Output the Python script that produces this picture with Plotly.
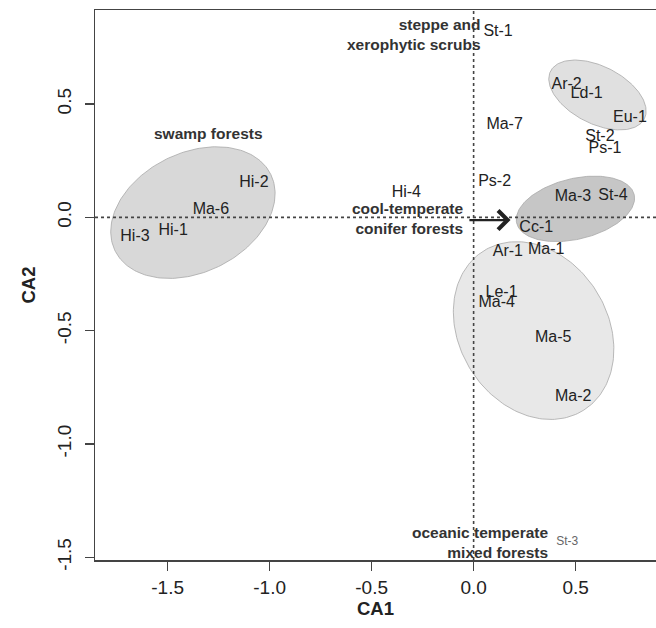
import numpy as np
import plotly.graph_objects as go

# ---- data: site labels (CA1, CA2) ----
site_names = ["St-1", "Ar-2", "Ld-1", "Eu-1", "St-2", "Ps-1", "Ma-7", "Ps-2",
              "Ma-3", "St-4", "Cc-1", "Ar-1", "Ma-1", "Le-1", "Ma-4", "Ma-5",
              "Ma-2", "Hi-4", "Hi-2", "Ma-6", "Hi-1", "Hi-3"]
site_ca1 = [0.120, 0.456, 0.554, 0.766, 0.619, 0.644, 0.152, 0.103,
            0.487, 0.683, 0.307, 0.168, 0.356, 0.137, 0.113, 0.390,
            0.488, -0.330, -1.077, -1.288, -1.473, -1.660]
site_ca2 = [0.816, 0.583, 0.543, 0.437, 0.356, 0.300, 0.407, 0.157,
            0.091, 0.094, -0.049, -0.154, -0.144, -0.335, -0.380, -0.534,
            -0.792, 0.109, 0.153, 0.032, -0.060, -0.088]

minor_names = ["St-3"]
minor_ca1 = [0.459]
minor_ca2 = [-1.432]

# ---- group ellipses: centre and two semi-axis vectors (data units) ----
ell_cx = [-1.376, 0.607, 0.499, 0.294]
ell_cy = [0.021, 0.540, 0.0375, -0.4996]
ell_ax = [0.382, 0.230, 0.288, 0.246]
ell_ay = [0.168, -0.105, 0.063, -0.351]
ell_bx = [-0.128, 0.0637, -0.0353, 0.307]
ell_by = [0.237, 0.113, 0.130, 0.175]
ell_fill = ["#d8d8d8", "#e0e0e0", "#c6c6c6", "#e8e8e8"]

# ---- group (vegetation type) labels ----
group_text = ["swamp forests", "steppe and<br>xerophytic scrubs",
              "cool-temperate<br>conifer forests",
              "oceanic temperate<br>mixed forests"]
group_x = [-1.301, 0.046, -0.041, 0.372]
group_y = [0.371, 0.809, -0.004, -1.434]
group_anchor = ["center", "right", "right", "right"]

# arrow (tail -> head)
arrow_tail = (-0.028, -0.012)
arrow_head = (0.181, -0.012)

# axes
x_range = [-1.856, 0.894]
y_range = [-1.512, 0.915]
x_ticks = [-1.5, -1.0, -0.5, 0.0, 0.5]
x_ticklabels = ["-1.5", "-1.0", "-0.5", "0.0", "0.5"]
y_ticks = [-1.5, -1.0, -0.5, 0.0, 0.5]
y_ticklabels = ["-1.5", "-1.0", "-0.5", "0.0", "0.5"]

FONT = "Liberation Sans, Arial, Helvetica, sans-serif"

fig = go.Figure()

t = np.linspace(0, 2 * np.pi, 200)
for cx, cy, ax_, ay_, bx, by, col in zip(ell_cx, ell_cy, ell_ax, ell_ay,
                                          ell_bx, ell_by, ell_fill):
    ex = cx + ax_ * np.cos(t) + bx * np.sin(t)
    ey = cy + ay_ * np.cos(t) + by * np.sin(t)
    fig.add_trace(go.Scatter(x=ex, y=ey, mode="lines", fill="toself",
                             fillcolor=col,
                             line=dict(color="#a8a8a8", width=0.8),
                             hoverinfo="skip", showlegend=False))

# dotted reference lines
fig.add_trace(go.Scatter(x=[0, 0], y=y_range, mode="lines",
                         line=dict(color="#444444", width=1.6, dash="dot"),
                         hoverinfo="skip", showlegend=False))
fig.add_trace(go.Scatter(x=x_range, y=[0, 0], mode="lines",
                         line=dict(color="#444444", width=1.6, dash="dot"),
                         hoverinfo="skip", showlegend=False))

fig.add_trace(go.Scatter(x=site_ca1, y=site_ca2, text=site_names, mode="text",
                         textposition="middle center",
                         textfont=dict(family=FONT, size=16, color="#222222"),
                         hoverinfo="skip", showlegend=False))
fig.add_trace(go.Scatter(x=minor_ca1, y=minor_ca2, text=minor_names, mode="text",
                         textposition="middle center",
                         textfont=dict(family=FONT, size=12, color="#666666"),
                         hoverinfo="skip", showlegend=False))

for txt, gx, gy, anc in zip(group_text, group_x, group_y, group_anchor):
    fig.add_annotation(x=gx, y=gy, text="<b>" + txt + "</b>", showarrow=False,
                       xanchor=anc, yanchor="middle", align="right",
                       font=dict(family=FONT, size=15.5, color="#333333"))

fig.add_annotation(x=arrow_head[0], y=arrow_head[1], ax=arrow_tail[0],
                   ay=arrow_tail[1], xref="x", yref="y", axref="x", ayref="y",
                   showarrow=True, arrowhead=4, arrowsize=1.6, arrowwidth=2.3,
                   arrowcolor="#222222", text="")

axis_common = dict(showline=True, linecolor="#444444", linewidth=1.5,
                   ticks="outside", ticklen=9, tickwidth=1.5, tickcolor="#444444",
                   showgrid=False, zeroline=False, automargin=False,
                   tickfont=dict(family=FONT, size=19, color="#222222"))

fig.update_xaxes(range=x_range, tickmode="array", tickvals=x_ticks,
                 ticktext=x_ticklabels, mirror=True, ticklabelstandoff=1,
                 title=dict(text="<b>CA1</b>", standoff=0,
                            font=dict(family=FONT, size=18.5, color="#222222")),
                 **axis_common)
fig.update_yaxes(range=y_range, tickmode="array", tickvals=y_ticks,
                 ticktext=y_ticklabels, tickangle=-90, ticklabelstandoff=6,
                 title=dict(text="<b>CA2</b>", standoff=13,
                            font=dict(family=FONT, size=18.5, color="#222222")),
                 **axis_common)

fig.update_layout(width=656, height=628, plot_bgcolor="white",
                  paper_bgcolor="white", hovermode=False,
                  margin=dict(l=95, r=0, t=10, b=68))

fig.write_html("out.html", config={"displayModeBar": False, "staticPlot": True},
               post_script="document.body.style.margin='0';"
                           "document.body.style.overflow='hidden';")
